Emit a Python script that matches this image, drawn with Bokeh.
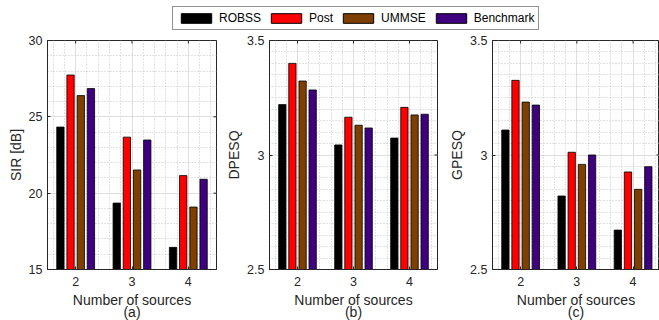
import math
from bokeh.plotting import figure
from bokeh.models import FixedTicker, Range1d, Legend, LegendItem
from bokeh.layouts import column, row
from bokeh.embed import file_html
from bokeh.resources import INLINE
from bokeh.core.properties import value

# ---------------- data ----------------
categories = [2, 3, 4]
methods = ["ROBSS", "Post", "UMMSE", "Benchmark"]
colors = ["#000000", "#FF0000", "#7F3F00", "#3F007F"]

sir_robss = [24.33, 19.35, 16.45]
sir_post = [27.74, 23.67, 21.15]
sir_ummse = [26.39, 21.52, 19.09]
sir_bench = [26.85, 23.48, 20.91]

dpesq_robss = [3.220, 3.044, 3.074]
dpesq_post = [3.400, 3.165, 3.208]
dpesq_ummse = [3.323, 3.130, 3.175]
dpesq_bench = [3.284, 3.118, 3.178]

gpesq_robss = [3.109, 2.821, 2.672]
gpesq_post = [3.326, 3.012, 2.926]
gpesq_ummse = [3.231, 2.959, 2.850]
gpesq_bench = [3.218, 3.000, 2.949]

sir_ticks = [15, 20, 25, 30]
pesq_ticks = [2.5, 3, 3.5]
pesq_tick_labels = {2.5: "2.5", 3: "3", 3.5: "3.5"}

# ---------------- style ----------------
FONT = "Liberation Sans"
TXT = "#262626"
offsets = [-0.271, -0.091, 0.091, 0.271]
bar_w = 0.13
FRAME_H = 229
x_minor = [round(1.6 + 0.2 * k, 2) for k in range(15)]
x_minor = [v for v in x_minor if v not in (2.0, 3.0, 4.0)]


def make_panel(ylabel, series, yr, yticks, yminor, overrides, tag,
               frame_w, x_end, right_border):
    p = figure(frame_width=frame_w, frame_height=FRAME_H,
               x_range=Range1d(1.5, x_end), y_range=Range1d(*yr),
               output_backend="svg", toolbar_location=None,
               min_border_left=47, min_border_right=right_border,
               min_border_top=8, min_border_bottom=51)
    p.background_fill_color = "white"
    p.outline_line_color = TXT
    p.outline_line_width = 1

    for i, vals in enumerate(series):
        xs = [c + offsets[i] for c in categories]
        p.vbar(x=xs, top=vals, bottom=0, width=bar_w,
               fill_color=colors[i], line_color="black", line_width=0.8)

    # inward tick marks on the top and right edges of the box (clipped half-dashes)
    p.scatter(x=categories, y=[yr[1]] * len(categories), marker="dash",
              angle=math.pi / 2, size=6, line_color=TXT, line_width=1)
    p.scatter(x=[x_end] * len(yticks), y=yticks, marker="dash",
              size=6, line_color=TXT, line_width=1)

    xax = p.xaxis[0]
    yax = p.yaxis[0]
    xax.ticker = FixedTicker(ticks=categories, minor_ticks=x_minor)
    yax.ticker = FixedTicker(ticks=yticks, minor_ticks=yminor)
    if overrides:
        yax.major_label_overrides = overrides

    for ax in (xax, yax):
        ax.major_tick_in = 3
        ax.major_tick_out = 0
        ax.minor_tick_in = 0
        ax.minor_tick_out = 0
        ax.axis_line_color = TXT
        ax.major_tick_line_color = TXT
        ax.major_label_text_color = TXT
        ax.major_label_text_font = FONT
        ax.major_label_text_font_size = "12.5px"
        ax.axis_label_text_font = FONT
        ax.axis_label_text_color = TXT
        ax.axis_label_text_font_style = "normal"
        ax.axis_label_text_font_size = "14px"

    xax.major_label_standoff = 7
    xax.axis_label = "Number of sources\n" + tag
    xax.axis_label_text_line_height = 0.8
    xax.axis_label_standoff = 3
    yax.major_label_standoff = 5
    yax.axis_label = ylabel
    yax.axis_label_standoff = 2

    p.grid.grid_line_color = "#dedede"
    p.grid.grid_line_width = 1
    p.grid.minor_grid_line_color = "#c4c4c4"
    p.grid.minor_grid_line_dash = "1 2"
    p.grid.minor_grid_line_width = 1
    return p


pa = make_panel("SIR [dB]", [sir_robss, sir_post, sir_ummse, sir_bench],
                (15, 30), sir_ticks, [v for v in range(16, 30) if v not in (20, 25)],
                None, "(a)", 169, 4.5, 6)
pesq_minor = [round(2.5 + 0.05 * k, 2) for k in range(1, 20)]
pesq_minor = [v for v in pesq_minor if v != 3.0]
pb = make_panel("DPESQ", [dpesq_robss, dpesq_post, dpesq_ummse, dpesq_bench],
                (2.5, 3.5), pesq_ticks, pesq_minor, pesq_tick_labels, "(b)",
                168, 4.5, 8)
pc = make_panel("GPESQ", [gpesq_robss, gpesq_post, gpesq_ummse, gpesq_bench],
                (2.5, 3.5), pesq_ticks, pesq_minor, pesq_tick_labels, "(c)",
                167, 4.47, 0)

# ---------------- legend strip ----------------
lf = figure(width=659, height=32, x_range=Range1d(0, 1), y_range=Range1d(0, 1),
            output_backend="svg", toolbar_location=None, min_border=0,
            x_axis_type=None, y_axis_type=None)
lf.outline_line_color = None
# proxy renderers (their bars fall outside this strip's visible range)
rs = [lf.vbar(x=categories, top=vals, width=0.1, fill_color=c,
              line_color="black", line_width=1)
      for c, vals in zip(colors, [sir_robss, sir_post, sir_ummse, sir_bench])]
legend = Legend(items=[LegendItem(label=value(m), renderers=[r], index=0)
                       for m, r in zip(methods, rs)],
                orientation="horizontal", location=(172, 2), margin=0,
                padding=4, spacing=6, label_standoff=4,
                glyph_width=38, glyph_height=12, label_height=12, label_width=0,
                label_text_font=FONT, label_text_font_size="12px",
                label_text_color="#000000",
                border_line_color=TXT, border_line_width=1,
                background_fill_color="white", background_fill_alpha=1)
lf.add_layout(legend)

layout = column(lf, row(pa, pb, pc, spacing=0), spacing=0)
open("out.html", "w").write(file_html(layout, INLINE))
